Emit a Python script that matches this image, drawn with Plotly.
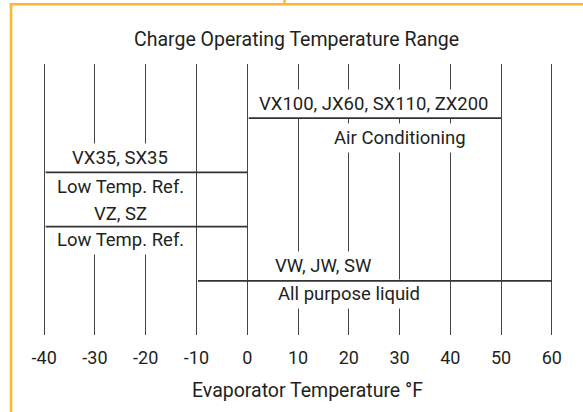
import plotly.graph_objects as go

# ---------------- data ----------------
products = ["VX100, JX60, SX110, ZX200", "VX35, SX35", "VZ, SZ", "VW, JW, SW"]
applications = ["Air Conditioning", "Low Temp. Ref.", "Low Temp. Ref.", "All purpose liquid"]
range_low = [0, -40, -40, -10]     # °F
range_high = [50, 0, 0, 60]        # °F
tick_values = [-40, -30, -20, -10, 0, 10, 20, 30, 40, 50, 60]
tick_labels = ["-40", "-30", "-20", "-10", "0", "10", "20", "30", "40", "50", "60"]

# ---------------- layout constants ----------------
W, H = 583, 412
ML, MR, MT, MB = 34, 21, 64, 77
PW, PH = W - ML - MR, H - MT - MB
rows = [1, 2, 3, 4]                       # vertical slot of each range line
product_x = [25, -25, -25, 15]            # label centres (x units)
app_x = [30, -25, -25, 20]
product_shift = [14, 14, 12.5, 15]        # px above line
app_shift = [20, 15, 13, 13.5]            # px below line

FONT = "Roboto, Liberation Sans, Arial, sans-serif"
TXT = "#231f20"
LINE = "#333333"
ORANGE = "#FDB92E"

def px_x(p):
    return (p - ML) / PW

def px_y(p):
    return (H - MB - p) / PH

fig = go.Figure()
fig.add_trace(go.Scatter(x=[None], y=[None], showlegend=False, hoverinfo="skip"))

annotations = []
# text labels with white background (hide the grid behind them)
for i in range(len(products)):
    annotations.append(dict(x=product_x[i], y=rows[i], xref="x", yref="y",
                            text=products[i], showarrow=False, yanchor="middle",
                            yshift=product_shift[i], bgcolor="white", borderpad=3,
                            font=dict(family=FONT, size=18.5, color=TXT)))
    annotations.append(dict(x=app_x[i], y=rows[i], xref="x", yref="y",
                            text=applications[i], showarrow=False, yanchor="middle",
                            yshift=-app_shift[i], bgcolor="white", borderpad=3,
                            font=dict(family=FONT, size=18.5, color=TXT)))
# range lines (drawn after labels so they stay on top)
for i in range(len(products)):
    annotations.append(dict(x=range_high[i], y=rows[i], xref="x", yref="y",
                            ax=range_low[i], ay=rows[i], axref="x", ayref="y",
                            text="", showarrow=True, arrowhead=0, arrowwidth=1.8,
                            arrowcolor=LINE, standoff=0, startstandoff=0))
# axis title
annotations.append(dict(x=px_x(307.6), y=px_y(390), xref="paper", yref="paper",
                        text="Evaporator Temperature °F", showarrow=False,
                        xanchor="center", yanchor="middle",
                        font=dict(family=FONT, size=19.5, color=TXT)))
# chart title
annotations.append(dict(x=px_x(296), y=px_y(39.5), xref="paper", yref="paper",
                        text="Charge Operating Temperature Range", showarrow=False,
                        xanchor="center", yanchor="middle",
                        font=dict(family=FONT, size=19.5, color=TXT)))

shapes = [
    dict(type="line", xref="paper", yref="paper", x0=px_x(11), x1=px_x(11),
         y0=px_y(3.2), y1=px_y(H + 2), line=dict(color=ORANGE, width=2.6)),
    dict(type="line", xref="paper", yref="paper", x0=px_x(9.7), x1=px_x(W + 2),
         y0=px_y(4.3), y1=px_y(4.3), line=dict(color=ORANGE, width=2.4)),
    dict(type="line", xref="paper", yref="paper", x0=px_x(284.5), x1=px_x(284.5),
         y0=px_y(-1), y1=px_y(4.3), line=dict(color=ORANGE, width=2.4)),
]

fig.update_layout(
    width=W, height=H,
    margin=dict(l=ML, r=MR, t=MT, b=MB),
    paper_bgcolor="white", plot_bgcolor="white",
    showlegend=False,
    annotations=annotations,
    shapes=shapes,
    xaxis=dict(range=[-42, 62], tickmode="array", tickvals=tick_values,
               ticktext=tick_labels, showgrid=True, gridcolor="#444444", gridwidth=1.4,
               zeroline=False, showline=False, ticks="outside", ticklen=6,
               tickcolor="rgba(0,0,0,0)",
               tickfont=dict(family=FONT, size=18, color=TXT), fixedrange=True),
    yaxis=dict(range=[5, 0], visible=False, showgrid=False, zeroline=False,
               fixedrange=True),
)

fig.write_html("out.html", config={"displayModeBar": False},
               post_script="document.body.style.margin='0';")
